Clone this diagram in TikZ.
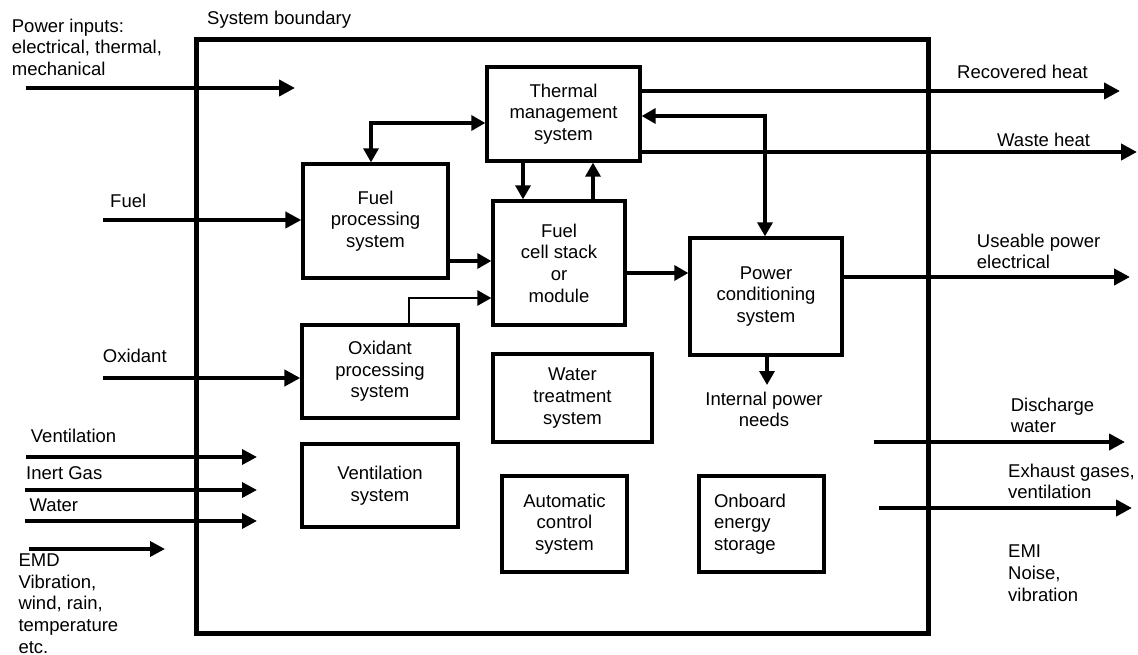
\documentclass[tikz,border=0pt]{standalone}
\usepackage{fontspec}
\setmainfont{Liberation Sans}
\usetikzlibrary{arrows.meta}
\begin{document}
\begin{tikzpicture}[x=1pt,y=-1pt,
  every node/.style={font=\fontsize{18.5}{21.7}\selectfont},
  blk/.style={draw, line width=3.3pt, inner sep=0pt, align=center},
  bound/.style={draw, line width=5pt, inner sep=0pt},
  ext/.style={line width=4.5pt, -{Triangle[length=16pt,width=16pt]}},
  extthin/.style={line width=3.5pt, -{Triangle[length=15pt,width=15pt]}},
  int/.style={line width=3.3pt, -{Triangle[length=14pt,width=15pt]}},
  bint/.style={line width=3.3pt, {Triangle[length=14pt,width=15pt]}-{Triangle[length=14pt,width=15pt]}},
  lbl/.style={anchor=north west, inner sep=0pt, align=left}]
\useasboundingbox (0,0) rectangle (1138,655);

% system boundary
\node[bound, minimum width=732pt, minimum height=593pt] (boundary) at (562,336.5) {};
\node[anchor=base west, inner sep=0pt] (sbl) at (207,24.6) {System boundary};

% blocks
\node[blk, minimum width=153pt, minimum height=94pt] (thermal) at (563.5,114) {Thermal\\management\\system};
\node[blk, minimum width=145pt, minimum height=114pt] (fuelproc) at (375.5,221) {Fuel\\processing\\system};
\node[blk, minimum width=132pt, minimum height=124pt] (fuelcell) at (559,263) {Fuel\\cell stack\\or\\module};
\node[blk, minimum width=152pt, minimum height=117pt] (powercond) at (766,296.5) {Power\\conditioning\\system};
\node[blk, minimum width=156pt, minimum height=93pt] (oxidant) at (380,371.5) {Oxidant\\processing\\system};
\node[blk, minimum width=156pt, minimum height=83pt] (ventsys) at (380,485.5) {Ventilation\\system};
\node[blk, minimum width=159pt, minimum height=88pt] (water) at (572.5,398) {Water\\treatment\\system};
\node[blk, minimum width=125pt, minimum height=96pt] (autoctl) at (564.5,524) {Automatic\\control\\system};
\node[blk, minimum width=125pt, minimum height=96pt, align=left, text width=95pt] (onboard) at (761.5,524) {Onboard\\energy\\storage};

% input labels
\node[lbl] (lpow) at (11.7,18.4) {Power inputs:\\electrical, thermal,\\mechanical};
\node[lbl] (lfuel) at (110,193.4) {Fuel};
\node[lbl] (lox) at (102.7,348.4) {Oxidant};
\node[lbl] (lvent) at (30.7,428.4) {Ventilation};
\node[lbl] (linert) at (26,466.7) {Inert Gas};
\node[lbl] (lwater) at (29.3,498.4) {Water};
\node[lbl] (lemd) at (18.3,553.4) {EMD\\Vibration,\\wind, rain,\\temperature\\etc.};

% output labels
\node[lbl] (lrh) at (957,65) {Recovered heat};
\node[lbl] (lwh) at (997,132.4) {Waste heat};
\node[lbl] (lup) at (976.7,233.4) {Useable power\\electrical};
\node[lbl] (ldw) at (1010.6,397.4) {Discharge\\water};
\node[lbl] (lex) at (1008,463.4) {Exhaust gases,\\ventilation};
\node[lbl] (lemi) at (1008,545) {EMI\\Noise,\\vibration};
\node[anchor=north, inner sep=0pt, align=center] (ipn) at (764,391.4) {Internal power\\needs};

% input arrows
\coordinate (pin0) at (26,88); \coordinate (pin1) at (295,88);
\draw[ext] (pin0) -- (pin1);
\coordinate (fuel0) at (103,220);
\draw[ext] (fuel0) -- (fuel0 -| fuelproc.west);
\coordinate (ox0) at (103,378);
\draw[ext] (ox0) -- (ox0 -| oxidant.west);
\coordinate (v0) at (26,457); \coordinate (v1) at (257,457);
\draw[extthin] (v0) -- (v1);
\coordinate (ig0) at (25,490); \coordinate (ig1) at (257,490);
\draw[extthin] (ig0) -- (ig1);
\coordinate (w0) at (25,521); \coordinate (w1) at (257,521);
\draw[extthin] (w0) -- (w1);
\coordinate (e0) at (29,549); \coordinate (e1) at (165,549);
\draw[extthin] (e0) -- (e1);

% internal connectors
\coordinate (c1) at (371,123);
\draw[bint] (fuelproc.north -| c1) |- (thermal.west |- c1);
\coordinate (c2) at (523,180);
\draw[int] (thermal.south -| c2) -- (fuelcell.north -| c2);
\coordinate (c3) at (593,180);
\draw[int] (fuelcell.north -| c3) -- (thermal.south -| c3);
\coordinate (c4) at (470,261);
\draw[int] (fuelproc.east |- c4) -- (fuelcell.west |- c4);
\coordinate (c5) at (409,298);
\draw[int, line width=2.6pt] (oxidant.north -| c5) |- (fuelcell.west |- c5);
\coordinate (c6) at (660,273);
\draw[int] (fuelcell.east |- c6) -- (powercond.west |- c6);
\coordinate (c7) at (765,116);
\draw[bint] (powercond.north -| c7) |- (thermal.east |- c7);
\coordinate (c8) at (767,385);
\draw[int] (powercond.south -| c8) -- (c8);

% output arrows
\coordinate (rh) at (1120,91);
\draw[ext] (thermal.east |- rh) -- (rh);
\coordinate (wh) at (1137,152);
\draw[ext] (thermal.east |- wh) -- (wh);
\coordinate (up) at (1130,277);
\draw[ext] (powercond.east |- up) -- (up);
\coordinate (dw0) at (874,442); \coordinate (dw1) at (1125,442);
\draw[ext] (dw0) -- (dw1);
\coordinate (ex0) at (879,508); \coordinate (ex1) at (1132,508);
\draw[ext] (ex0) -- (ex1);
\end{tikzpicture}
\end{document}
